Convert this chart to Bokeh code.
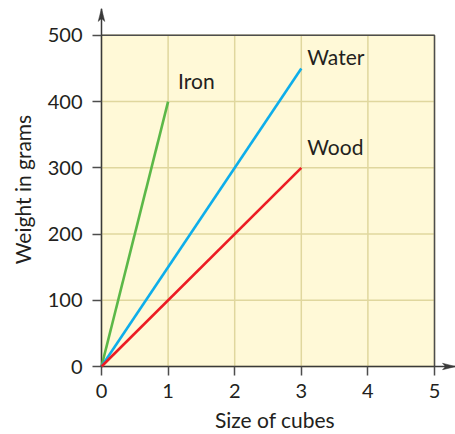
from bokeh.plotting import figure
from bokeh.models import Range1d, FixedTicker, ColumnDataSource
from bokeh.core.properties import value
from bokeh.embed import file_html
from bokeh.resources import INLINE

# data
names = ["Iron", "Water", "Wood"]
iron_x = [0, 1]
iron_y = [0, 400]
water_x = [0, 3]
water_y = [0, 450]
wood_x = [0, 3]
wood_y = [0, 300]
x_ticks = [0, 1, 2, 3, 4, 5]
y_ticks = [0, 100, 200, 300, 400, 500]

FONT = "Lato"
TXT = "#231f20"
AX = "#3a3a3a"
BOX = "#4d4d4d"
GRID = "#e0d79e"
FILL = "#fff9d7"

# layout (pixels)
W, H = 455, 434
BOX_L, BOX_R, BOX_T, BOX_B = 101, 434, 35, 368   # yellow box edges
TOP_TIP, RIGHT_TIP = 8, W                          # arrow tips
PAD_L, PAD_B = 7, 4                                # frame room around the axes
TICK_Y, TICK_X = 9, 9                              # tick lengths outside the box

xmin, xmax = x_ticks[0], x_ticks[-1]
ymin, ymax = y_ticks[0], y_ticks[-1]
px_x = (BOX_R - BOX_L) / (xmax - xmin)   # pixels per x unit
px_y = (BOX_B - BOX_T) / (ymax - ymin)   # pixels per y unit
x_start = xmin - PAD_L / px_x
x_end = xmax + (RIGHT_TIP - BOX_R) / px_x
y_start = ymin - PAD_B / px_y
y_end = ymax + (BOX_T - TOP_TIP) / px_y

p = figure(width=W, height=H, output_backend="svg", toolbar_location=None,
           x_range=Range1d(x_start, x_end), y_range=Range1d(y_start, y_end),
           min_border_left=BOX_L - PAD_L, min_border_right=W - RIGHT_TIP,
           min_border_top=TOP_TIP, min_border_bottom=H - BOX_B - PAD_B)
p.background_fill_color = "white"
p.border_fill_color = "white"
p.outline_line_color = None
p.xgrid.grid_line_color = None
p.ygrid.grid_line_color = None

for ax, ticks in ((p.xaxis, x_ticks), (p.yaxis, y_ticks)):
    ax.ticker = FixedTicker(ticks=ticks)
    ax.axis_line_color = None
    ax.major_tick_line_color = BOX
    ax.major_tick_line_width = 1.5
    ax.minor_tick_line_color = None
    ax.major_label_text_font = FONT
    ax.major_label_text_font_size = "20px"
    ax.major_label_text_color = TXT
    ax.axis_label_text_font = FONT
    ax.axis_label_text_font_size = "21px"
    ax.axis_label_text_font_style = "normal"
    ax.axis_label_text_color = TXT
# ticks span from the box edge outwards (the axis sits at the frame edge)
p.yaxis.major_tick_in = PAD_L
p.yaxis.major_tick_out = TICK_Y - PAD_L
p.xaxis.major_tick_in = PAD_B
p.xaxis.major_tick_out = TICK_X - PAD_B

p.xaxis.axis_label = "Size of cubes"
p.yaxis.axis_label = "Weight in grams"
p.xaxis.major_label_standoff = 8
p.yaxis.major_label_standoff = 10
p.xaxis.axis_label_standoff = 6
p.yaxis.axis_label_standoff = 10

# yellow plotting box
p.quad(left=[xmin], right=[xmax], bottom=[ymin], top=[ymax],
       fill_color=FILL, line_color=None)
# grid lines
p.segment(x0=x_ticks, y0=[ymin] * len(x_ticks), x1=x_ticks, y1=[ymax] * len(x_ticks),
          line_color=GRID, line_width=1.5)
p.segment(x0=[xmin] * len(y_ticks), y0=y_ticks, x1=[xmax] * len(y_ticks), y1=y_ticks,
          line_color=GRID, line_width=1.5)
# box outline (top / right)
p.line([xmin, xmax, xmax], [ymax, ymax, ymin], line_color=BOX, line_width=1.5)
# axis lines running out to the arrow tips
p.line([xmin, xmin], [ymin, y_end], line_color=AX, line_width=1.5)
p.line([xmin, x_end], [ymin, ymin], line_color=AX, line_width=1.5)

# series
p.line(iron_x, iron_y, line_color="#5cb848", line_width=2.6)
p.line(water_x, water_y, line_color="#0eaeea", line_width=2.6)
p.line(wood_x, wood_y, line_color="#ec1c24", line_width=2.6)

label_src = ColumnDataSource(dict(
    x=[iron_x[-1], water_x[-1], wood_x[-1]],
    y=[iron_y[-1], water_y[-1], wood_y[-1]],
    text=names,
    xo=[10, 6, 6],
    yo=[-21, -12, -21],
))
p.text(x="x", y="y", text="text", x_offset="xo", y_offset="yo", source=label_src,
       text_font=value(FONT), text_font_size="21px", text_color=TXT,
       text_align="left", text_baseline="middle")

# arrow heads at the ends of the axis lines (vee shape, sizes in pixels)
HL, HW, NOTCH = 13, 3.3, 3
p.patch([xmin, xmin - HW / px_x, xmin, xmin + HW / px_x],
        [y_end, y_end - HL / px_y, y_end - (HL - NOTCH) / px_y, y_end - HL / px_y],
        fill_color=AX, line_color=AX, line_width=0.5)
p.patch([x_end, x_end - HL / px_x, x_end - (HL - NOTCH) / px_x, x_end - HL / px_x],
        [ymin, ymin - HW / px_y, ymin, ymin + HW / px_y],
        fill_color=AX, line_color=AX, line_width=0.5)

open("out.html", "w").write(file_html(p, INLINE))
